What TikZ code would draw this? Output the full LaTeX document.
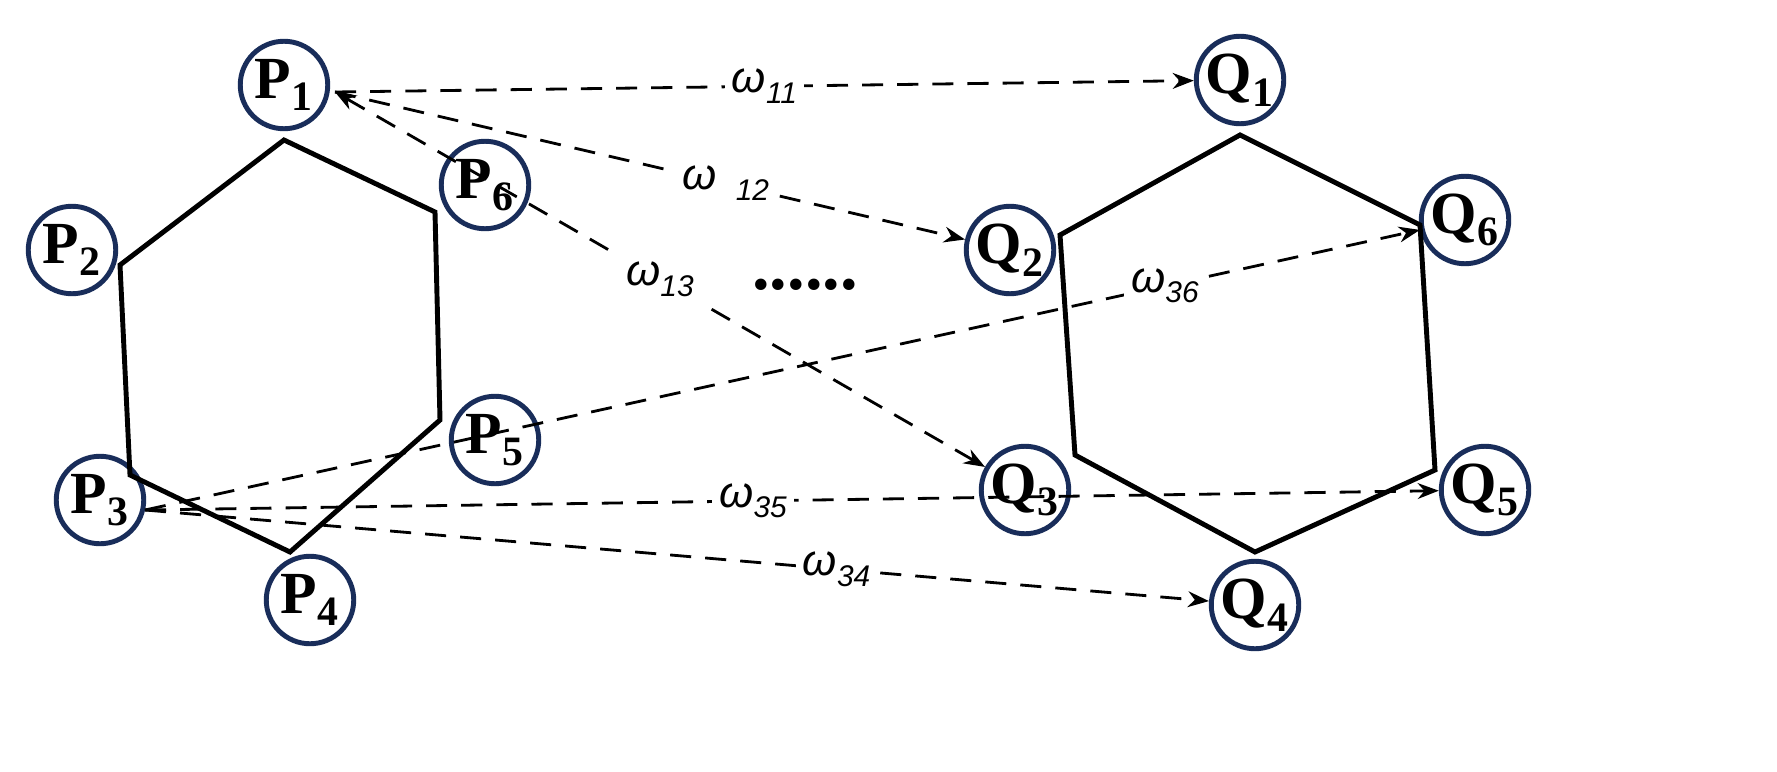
\documentclass[tikz,border=0pt]{standalone}
\usepackage{fontspec}
\setmainfont{Liberation Serif}
\newfontfamily\lab{Liberation Sans}
\usetikzlibrary{arrows.meta}
\definecolor{navy}{RGB}{25,45,90}
\newcommand{\om}[1]{ω{\fontsize{17}{17}\selectfont\raisebox{-6pt}{#1}}}
\begin{document}
\begin{tikzpicture}[x=0.02cm,y=-0.02cm,
  v/.style={circle,draw=navy,line width=2.8pt,minimum size=1.75cm,inner sep=0pt,font=\fontsize{34}{34}\selectfont\bfseries},
  e/.style={line width=2.8pt},
  w/.style={line width=1.6pt,dash pattern=on 12pt off 8pt,-{Stealth[length=12pt,width=9pt]}},
  lb/.style={font=\lab\itshape\fontsize{25}{25}\selectfont,fill=white,inner sep=4pt}]
\node[v] (P1) at (284,85) {P$_\mathbf{1}$};
\node[v] (P2) at (72,250) {P$_\mathbf{2}$};
\node[v] (P3) at (100,500) {P$_\mathbf{3}$};
\node[v] (P4) at (310,600) {P$_\mathbf{4}$};
\node[v] (P5) at (495,440) {P$_\mathbf{5}$};
\node[v] (P6) at (485,185) {P$_\mathbf{6}$};
\node[v] (Q1) at (1240,80) {Q$_\mathbf{1}$};
\node[v] (Q2) at (1010,250) {Q$_\mathbf{2}$};
\node[v] (Q3) at (1025,490) {Q$_\mathbf{3}$};
\node[v] (Q4) at (1255,605) {Q$_\mathbf{4}$};
\node[v] (Q5) at (1485,490) {Q$_\mathbf{5}$};
\node[v] (Q6) at (1465,220) {Q$_\mathbf{6}$};
\coordinate (a1) at (284,140); \coordinate (a6) at (435,212); \coordinate (a5) at (440,420);
\coordinate (a4) at (290,552); \coordinate (a3) at (130,475); \coordinate (a2) at (120,265);
\draw[e] (a1)--(a6)--(a5)--(a4)--(a3)--(a2)--cycle;
\coordinate (b1) at (1240,135); \coordinate (b6) at (1420,225); \coordinate (b5) at (1435,470);
\coordinate (b4) at (1255,552); \coordinate (b3) at (1075,455); \coordinate (b2) at (1060,235);
\draw[e] (b1)--(b6)--(b5)--(b4)--(b3)--(b2)--cycle;
\coordinate (s1) at (335,92); \coordinate (s3) at (145,510);
\draw[w] (s1) -- node[lb]{\om{11}} (Q1);
\draw[w] (s1) -- node[lb,pos=0.62]{ω \,{\fontsize{17}{17}\selectfont\raisebox{-6pt}{12}}} (Q2);
\draw[w,{Stealth[length=12pt,width=9pt]}-{Stealth[length=12pt,width=9pt]}] (s1) -- node[lb,pos=0.5]{\om{13}} (Q3);
\draw[w] (s3) -- node[lb,pos=0.8]{\om{36}} (Q6);
\draw[w] (s3) -- node[lb,pos=0.47]{\om{35}} (Q5);
\draw[w] (s3) -- node[lb,pos=0.65]{\om{34}} (Q4);
\node[font=\bfseries\fontsize{40}{40}\selectfont] (dots) at (805,285) {......};
\pgfresetboundingbox
\path[use as bounding box] (0,0) rectangle (1777,771);
\end{tikzpicture}
\end{document}
